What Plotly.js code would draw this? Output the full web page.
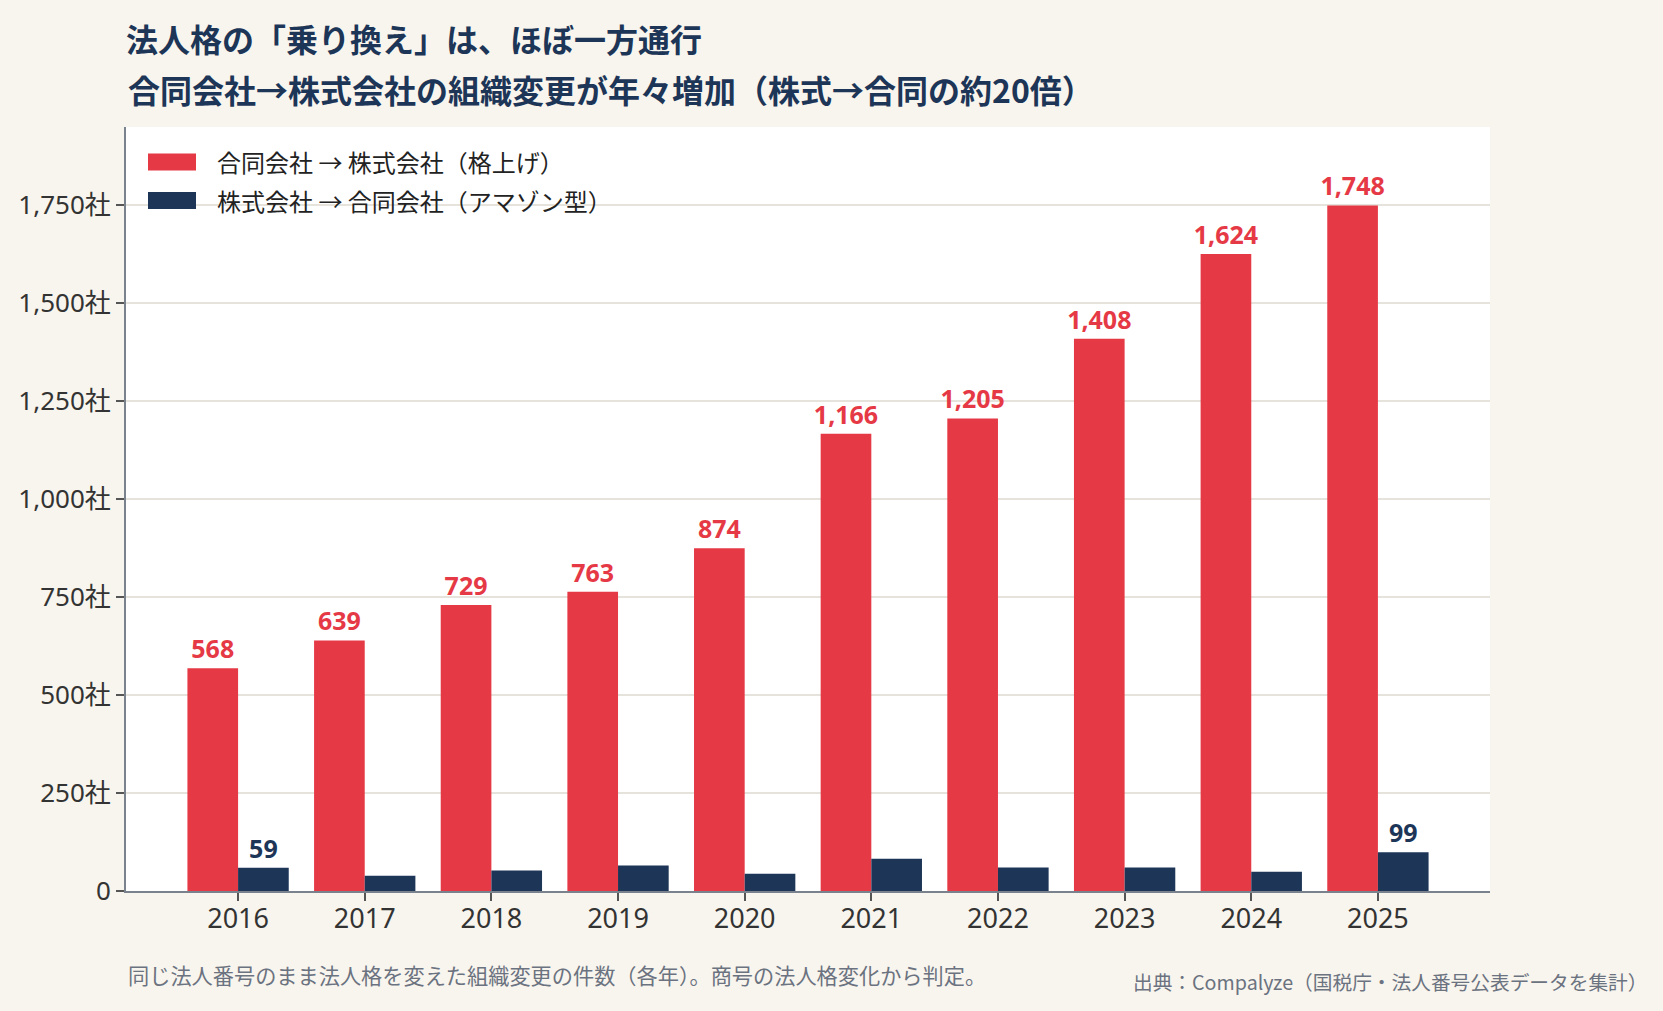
<!DOCTYPE html>
<html>
<head>
<meta charset="utf-8">
<script src="https://cdn.plot.ly/plotly-3.0.1.min.js"></script>
<style>
  html, body { margin: 0; padding: 0; background: #F8F5EE; }
  #chart { width: 1663px; height: 1011px; }
</style>
</head>
<body>
<div id="chart"></div>
<script>
const years = ['2016', '2017', '2018', '2019', '2020', '2021', '2022', '2023', '2024', '2025'];
const upgradeCounts = [568, 639, 729, 763, 874, 1166, 1205, 1408, 1624, 1748];
const amazonCounts = [59, 39, 52, 65, 44, 82, 60, 60, 49, 99];
const yTickVals = [0, 250, 500, 750, 1000, 1250, 1500, 1750];
const yTickText = ['0', '250社', '500社', '750社', '1,000社', '1,250社', '1,500社', '1,750社'];
const seriesNames = ['合同会社 → 株式会社（格上げ）', '株式会社 → 合同会社（アマゾン型）'];
const titleLine1 = '法人格の「乗り換え」は、ほぼ一方通行';
const titleLine2 = '合同会社→株式会社の組織変更が年々増加（株式→合同の約20倍）';
const noteText = '同じ法人番号のまま法人格を変えた組織変更の件数（各年）。商号の法人格変化から判定。';
const sourceText = '出典：Compalyze（国税庁・法人番号公表データを集計）';

const RED = '#E63946';
const NAVY = '#1D3557';
const COLORS = [RED, NAVY];
const FONT = "'Noto Sans CJK JP', 'Noto Sans', sans-serif";
const FONT_NUM = "'Noto Sans', 'Noto Sans CJK JP', sans-serif";

// page geometry (px) -> paper coords
const W = 1663, H = 1011;
const M = { l: 126, r: 173, t: 127, b: 120 };
const PW = W - M.l - M.r, PH = H - M.t - M.b;
const px2x = px => (px - M.l) / PW;
const px2y = py => (H - M.b - py) / PH;

const fmt = v => v.toLocaleString('en-US');
const navyText = amazonCounts.map((v, i) => (i === 0 || i === amazonCounts.length - 1) ? fmt(v) : '');

const traces = [
  {
    type: 'bar',
    name: seriesNames[0],
    x: years,
    y: upgradeCounts,
    marker: { color: RED },
    text: upgradeCounts.map(fmt),
    textposition: 'outside',
    constraintext: 'none',
    textfont: { family: FONT_NUM, size: 25, color: RED, weight: 700 },
    cliponaxis: false,
    hoverinfo: 'x+y'
  },
  {
    type: 'bar',
    name: seriesNames[1],
    x: years,
    y: amazonCounts,
    marker: { color: NAVY },
    text: navyText,
    textposition: 'outside',
    constraintext: 'none',
    textfont: { family: FONT_NUM, size: 25, color: NAVY, weight: 700 },
    cliponaxis: false,
    hoverinfo: 'x+y'
  }
];

// custom legend: wide swatches + labels
const legendRows = [162, 200.5];
const shapes = legendRows.map((cy, i) => ({
  type: 'rect', xref: 'paper', yref: 'paper',
  x0: px2x(148), x1: px2x(196),
  y0: px2y(cy + 8.5), y1: px2y(cy - 8.5),
  fillcolor: COLORS[i], line: { width: 0 }
}));
const legendAnns = legendRows.map((cy, i) => ({
  text: seriesNames[i],
  font: { family: FONT, size: 24, color: '#222222' },
  xref: 'paper', x: px2x(215), xanchor: 'left',
  yref: 'paper', y: px2y(cy), yanchor: 'middle',
  showarrow: false
}));

const layout = {
  width: W,
  height: H,
  paper_bgcolor: '#F8F5EE',
  plot_bgcolor: '#FFFFFF',
  font: { family: FONT, color: '#333333', size: 20 },
  margin: { l: M.l, r: M.r, t: M.t, b: M.b, pad: 0 },
  barmode: 'group',
  bargap: 0.2,
  bargroupgap: 0,
  title: {
    text: titleLine1,
    font: { family: FONT, size: 32, color: NAVY, weight: 700 },
    xref: 'paper', x: 0, xanchor: 'left',
    yref: 'container', y: 1 - 41 / H, yanchor: 'middle'
  },
  xaxis: {
    type: 'category',
    range: [-0.885, 9.885],
    showgrid: false,
    showline: true,
    linecolor: '#7A828E',
    linewidth: 2,
    ticks: 'outside',
    ticklen: 8,
    tickwidth: 1.5,
    tickcolor: '#555555',
    ticklabelstandoff: -5,
    tickfont: { family: FONT_NUM, size: 27, color: '#333333' },
    zeroline: false
  },
  yaxis: {
    range: [0, 1948],
    tickmode: 'array',
    tickvals: yTickVals,
    ticktext: yTickText,
    showgrid: true,
    gridcolor: '#E6E3DC',
    gridwidth: 1.5,
    showline: true,
    linecolor: '#7A828E',
    linewidth: 2,
    ticks: 'outside',
    ticklen: 8,
    tickwidth: 1.5,
    tickcolor: '#555555',
    tickfont: { family: FONT_NUM, size: 26, color: '#333333' },
    zeroline: false
  },
  showlegend: false,
  shapes: shapes,
  annotations: [
    {
      text: titleLine2,
      font: { family: FONT, size: 32, color: NAVY, weight: 700 },
      xref: 'paper', x: 0, xanchor: 'left',
      yref: 'paper', y: px2y(89), yanchor: 'middle',
      showarrow: false
    },
    ...legendAnns,
    {
      text: noteText,
      font: { family: FONT, size: 21.2, color: '#6B7280' },
      xref: 'paper', x: 0, xanchor: 'left',
      yref: 'paper', y: px2y(974), yanchor: 'middle',
      showarrow: false
    },
    {
      text: sourceText,
      font: { family: FONT, size: 19.7, color: '#6B7280' },
      xref: 'paper', x: px2x(1650), xanchor: 'right',
      yref: 'paper', y: px2y(981), yanchor: 'middle',
      showarrow: false
    }
  ]
};

Plotly.newPlot('chart', traces, layout, { displayModeBar: false, responsive: false });
</script>
</body>
</html>
